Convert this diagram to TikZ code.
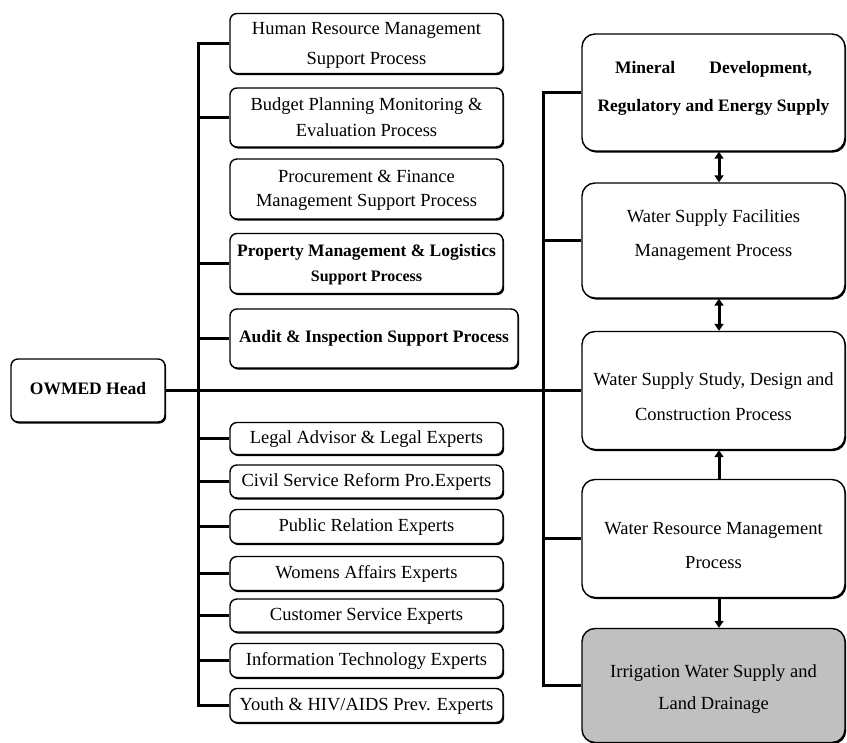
\documentclass[tikz,border=0pt]{standalone}
\usepackage{fontspec}
\setmainfont{Liberation Serif}
\usetikzlibrary{arrows.meta,shadows}
% #1 visual raise, #2 font size, #3 line skip, #4 text
\newcommand{\rtxt}[4]{\raisebox{\dimexpr#1-#2pt/4\relax}[0pt][0pt]{\fontsize{#2}{#3}\selectfont\begin{tabular}{@{}c@{}}#4\end{tabular}}}
\newcommand{\btxt}[4]{\raisebox{\dimexpr#1-#2pt/4\relax}[0pt][0pt]{\fontsize{#2}{#3}\selectfont\bfseries\begin{tabular}{@{}c@{}}#4\end{tabular}}}
\begin{document}
\begin{tikzpicture}[x=1pt,y=-1pt,
  sbox/.style={draw, line width=1.4pt, rounded corners=7pt, fill=white, inner sep=0pt,
    drop shadow={shadow xshift=1.2pt, shadow yshift=-1.6pt, opacity=1, fill=black}},
  lbox/.style={sbox, minimum width=273pt},
  rbox/.style={sbox, rounded corners=13pt, minimum width=263pt},
  conn/.style={line width=3pt, line cap=rect},
  tip/.tip={Triangle[width=9pt,length=7pt]},
  arr/.style={line width=3pt, -tip},
  darr/.style={line width=3pt, tip-tip},
]
\useasboundingbox (0,0) rectangle (847,743);

% head
\node[sbox, minimum width=154pt, minimum height=63pt] (head) at (88,390.5) {\btxt{0pt}{17.5}{22}{OWMED Head}};

% upper left boxes
\node[lbox, minimum height=60pt] (hr) at (366.5,43.5) {\rtxt{0pt}{18.5}{30}{Human Resource Management\\Support Process}};
\node[lbox, minimum height=59pt] (budget) at (366.5,117.5) {\rtxt{0pt}{18.5}{26}{Budget Planning Monitoring \&\\Evaluation Process}};
\node[lbox, minimum height=60pt] (proc) at (366.5,189) {\rtxt{0pt}{18.5}{24}{Procurement \& Finance\\Management Support Process}};
\node[lbox, minimum height=60pt] (prop) at (366.5,263.5) {\btxt{0pt}{17.5}{25}{Property Management \& Logistics\\{\fontsize{16}{25}\selectfont Support Process}}};
\node[sbox, minimum width=288pt, minimum height=59pt] (audit) at (374,338.5) {\btxt{0pt}{17.5}{22}{Audit \& Inspection Support Process}};

% lower left boxes
\node[lbox, minimum height=32pt] (legal) at (366.5,438.5) {\rtxt{0pt}{18.5}{22}{Legal Advisor \& Legal Experts}};
\node[lbox, minimum height=33pt] (civil) at (366.5,481.5) {\rtxt{0pt}{18.5}{22}{Civil Service Reform Pro.Experts}};
\node[lbox, minimum height=34pt] (public) at (366.5,526.5) {\rtxt{0pt}{18.5}{22}{Public Relation Experts}};
\node[lbox, minimum height=34pt] (womens) at (366.5,573.5) {\rtxt{0pt}{18.5}{22}{Womens Affairs Experts}};
\node[lbox, minimum height=33pt] (customer) at (366.5,615.5) {\rtxt{0pt}{18.5}{22}{Customer Service Experts}};
\node[lbox, minimum height=34pt] (info) at (366.5,660.5) {\rtxt{0pt}{18.5}{22}{Information Technology Experts}};
\node[lbox, minimum height=34pt] (youth) at (366.5,705.5) {\rtxt{0pt}{18.5}{22}{Youth \& HIV/AIDS Prev. Experts}};

% right boxes
\node[rbox, minimum height=117pt] (mineral) at (713.5,92.5) {\btxt{8pt}{17.5}{38}{\makebox[197pt]{Mineral\hfill Development,}\\Regulatory and Energy Supply}};
\node[rbox, minimum height=115pt] (facil) at (713.5,240.5) {\rtxt{8pt}{18.5}{34}{Water Supply Facilities\\Management Process}};
\node[rbox, minimum height=118pt] (study) at (713.5,390.5) {\rtxt{-5pt}{18.5}{35}{Water Supply Study, Design and\\Construction Process}};
\node[rbox, minimum height=118pt] (resource) at (713.5,538.5) {\rtxt{-6pt}{18.5}{34}{Water Resource Management\\Process}};
\node[rbox, minimum height=114pt, fill={rgb,255:red,192;green,192;blue,192}] (irrig) at (713.5,685.5) {\rtxt{-1pt}{18.5}{32}{Irrigation Water Supply and\\Land Drainage}};

% spines
\coordinate (spL) at (198.5,0);
\coordinate (spR) at (543.5,0);

% main line
\draw[conn, line cap=butt] (head.east) -- (head.east -| study.west);

% left spine and branches
\draw[conn] (hr.west -| spL) -- (youth.west -| spL);
\foreach \n in {hr,budget,prop,audit,legal,civil,public,womens,customer,info,youth}
  \draw[conn, line cap=butt] (\n.west) -- (\n.west -| spL);

% right spine and branches
\draw[conn] (mineral.west -| spR) -- (irrig.west -| spR);
\foreach \n in {mineral,facil,resource,irrig}
  \draw[conn, line cap=butt] (\n.west) -- (\n.west -| spR);

% arrows between right boxes
\draw[darr] ([xshift=5.5pt]mineral.south) -- ([xshift=5.5pt]facil.north);
\draw[darr] ([xshift=5.5pt]facil.south) -- ([xshift=5.5pt]study.north);
\draw[arr] ([xshift=5.5pt]resource.north) -- ([xshift=5.5pt]study.south);
\draw[arr] ([xshift=5.5pt]resource.south) -- ([xshift=5.5pt]irrig.north);
\end{tikzpicture}
\end{document}
